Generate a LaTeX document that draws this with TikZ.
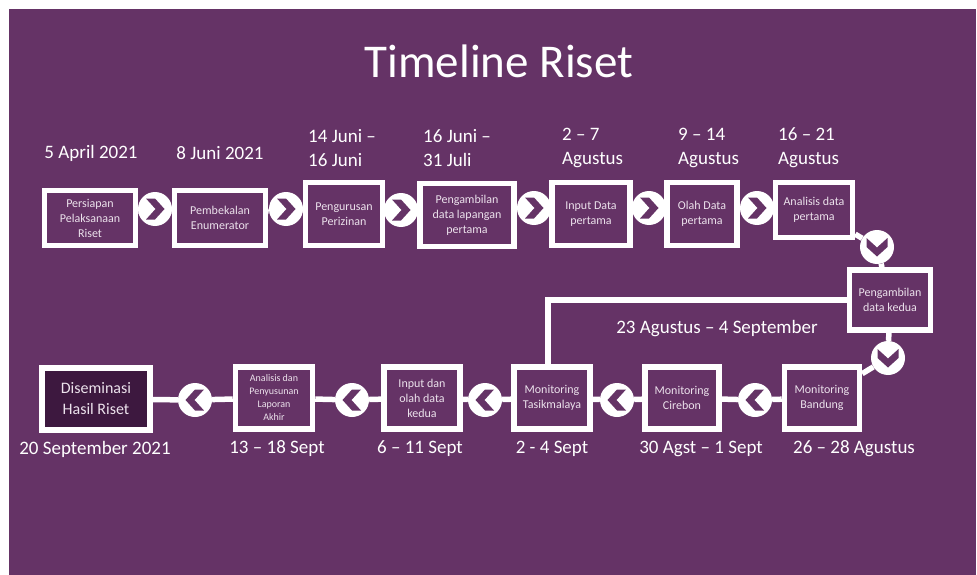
\documentclass[tikz,border=0pt]{standalone}
\usepackage{fontspec}
\setmainfont{Carlito}
\pgfdeclarelayer{back}
\pgfdeclarelayer{bg}
\pgfsetlayers{back,bg,main}
\definecolor{bgp}{RGB}{101,51,102}
\definecolor{darkp}{RGB}{61,24,63}
\definecolor{boxtxt}{RGB}{236,226,236}
\tikzset{
  box/.style={draw=white, line width=5.5pt, fill=bgp, text=boxtxt, align=center, inner sep=0pt, font=\fontsize{12}{15}\selectfont},
  circ/.style={circle, fill=white, minimum size=34pt, inner sep=0pt},
  conn/.style={draw=white, line width=5.5pt},
  datelbl/.style={text=white, font=\fontsize{19}{24}\selectfont, inner sep=0pt},
}
\newcommand\mychev[2]{\fill[bgp, shift={(#1)}, rotate=#2] (-9,-10.5) -- (0,-10.5) -- (9.5,0) -- (0,10.5) -- (-9,10.5) -- (0.5,0) -- cycle;}
\begin{document}
\begin{tikzpicture}[x=1pt,y=-1pt]
\useasboundingbox (0,0) rectangle (977,575);
\begin{pgfonlayer}{back}
\fill[white] (0,0) rectangle (977,575);
\fill[bgp] (9,9) rectangle (976,575);
\end{pgfonlayer}
\node[text=white, font=\fontsize{47}{50}\selectfont, inner sep=0pt] (title) at (499,61) {Timeline Riset};
% top row boxes
\node[box, minimum width=91pt, minimum height=55pt] (b1) at (90,218) {Persiapan\\Pelaksanaan\\Riset};
\node[box, minimum width=91pt, minimum height=55pt] (b2) at (220,218) {Pembekalan\\Enumerator};
\node[box, minimum width=77pt, minimum height=63pt] (b3) at (344,214) {Pengurusan\\Perizinan};
\node[box, minimum width=94pt, minimum height=63pt] (b4) at (467,215) {Pengambilan\\data lapangan\\pertama};
\node[box, minimum width=78pt, minimum height=63pt] (b5) at (591,214) {Input Data\\pertama};
\node[box, minimum width=70pt, minimum height=63pt] (b6) at (702,214) {Olah Data\\pertama};
\node[box, minimum width=77pt, minimum height=55pt] (b7) at (814,210) {Analisis data\\pertama};
\node[box, minimum width=81pt, minimum height=60pt] (b8) at (890,300) {Pengambilan\\data kedua};
% bottom row boxes
\node[box, minimum width=75pt, minimum height=62pt] (b9) at (822,398) {Monitoring\\Bandung};
\node[box, minimum width=74pt, minimum height=62pt] (b10) at (682,398) {Monitoring\\Cirebon};
\node[box, minimum width=76pt, minimum height=62pt] (b11) at (552,398) {Monitoring\\Tasikmalaya};
\node[box, minimum width=76pt, minimum height=62pt] (b12) at (422,398) {Input dan\\olah data\\kedua};
\node[box, minimum width=77pt, minimum height=62pt, font=\fontsize{10}{13}\selectfont] (b13) at (274,398) {Analisis dan\\Penyusunan\\Laporan\\Akhir};
\node[box, fill=darkp, minimum width=108pt, minimum height=62pt, font=\fontsize{16}{21}\selectfont] (b14) at (96,399) {Diseminasi\\Hasil Riset};
% circles
\node[circ] (c1) at (155,209) {};
\node[circ] (c2) at (286,209) {};
\node[circ] (c3) at (401,210) {};
\node[circ] (c4) at (534,208) {};
\node[circ] (c5) at (649,208) {};
\node[circ] (c6) at (757,208) {};
\node[circ] (c7) at (877,247) {};
\node[circ] (c8) at (888,358) {};
\node[circ] (c9) at (755,400) {};
\node[circ] (c10) at (617,400) {};
\node[circ] (c11) at (485,400) {};
\node[circ] (c12) at (352,400) {};
\node[circ] (c13) at (195,400) {};
\mychev{c1}{0}\mychev{c2}{0}\mychev{c3}{0}\mychev{c4}{0}\mychev{c5}{0}\mychev{c6}{0}
\mychev{c7}{-90}\mychev{c8}{-90}
\mychev{c9}{180}\mychev{c10}{180}\mychev{c11}{180}\mychev{c12}{180}\mychev{c13}{180}
\coordinate (turn) at (548,300);
% connectors
\begin{pgfonlayer}{bg}
\draw[conn] (b1) -- (c1) -- (b2) -- (c2) -- (b3) -- (c3) -- (b4) -- (c4) -- (b5) -- (c5) -- (b6) -- (c6) -- (b7) -- (c7) -- (b8) -- (c8) -- (b9) -- (c9) -- (b10) -- (c10) -- (b11) -- (c11) -- (b12) -- (c12) -- (b13) -- (c13) -- (b14);
\draw[conn] (b8) -- (turn) -- (turn |- b11);
\end{pgfonlayer}
% date labels
\node[datelbl] (d1) at (91,153) {5 April 2021};
\node[datelbl] (d2) at (220,153) {8 Juni 2021};
\node[datelbl, anchor=west, align=left] (d3) at (308,148) {14 Juni –\\16 Juni};
\node[datelbl, anchor=west, align=left] (d4) at (423,148) {16 Juni –\\31 Juli};
\node[datelbl, anchor=west, align=left] (d5) at (562,148) {2 – 7\\Agustus};
\node[datelbl, anchor=west, align=left] (d6) at (678,148) {9 – 14\\Agustus};
\node[datelbl, anchor=west, align=left] (d7) at (778,148) {16 – 21\\Agustus};
\node[datelbl] (d8) at (717,329) {23 Agustus – 4 September};
\node[datelbl] (d9) at (95,449) {20 September 2021};
\node[datelbl] (d10) at (277,449) {13 – 18 Sept};
\node[datelbl] (d11) at (420,449) {6 – 11 Sept};
\node[datelbl] (d12) at (552,449) {2 - 4 Sept};
\node[datelbl] (d13) at (701,449) {30 Agst – 1 Sept};
\node[datelbl] (d14) at (854,449) {26 – 28 Agustus};
\end{tikzpicture}
\end{document}
